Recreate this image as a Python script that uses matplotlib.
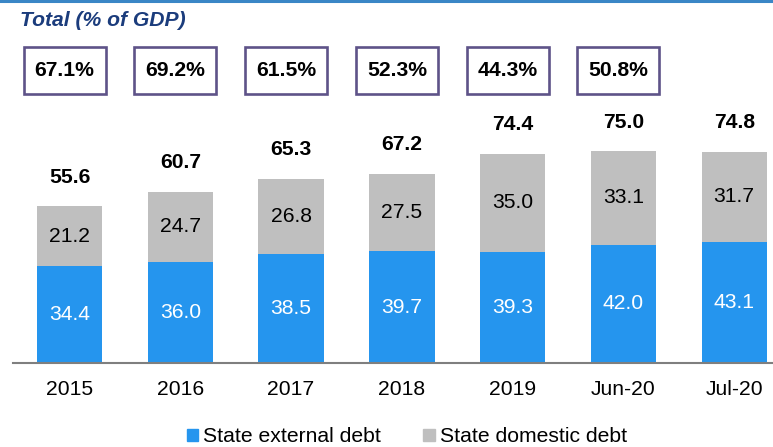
import numpy as np
import matplotlib.pyplot as plt
import matplotlib.transforms as mtransforms
from matplotlib.patches import Rectangle, Patch
from matplotlib.lines import Line2D

# data
periods = ["2015", "2016", "2017", "2018", "2019", "Jun-20", "Jul-20"]
external = [34.4, 36.0, 38.5, 39.7, 39.3, 42.0, 43.1]
domestic = [21.2, 24.7, 26.8, 27.5, 35.0, 33.1, 31.7]
totals = [55.6, 60.7, 65.3, 67.2, 74.4, 75.0, 74.8]
gdp_share = ["67.1%", "69.2%", "61.5%", "52.3%", "44.3%", "50.8%"]

blue = "#2595EE"
grey = "#BFBFBF"
navy = "#1B3C7C"
fs = 15.2

plt.rcParams["font.family"] = ["Liberation Sans", "DejaVu Sans"]

fig = plt.figure(figsize=(7.73, 4.47), dpi=100)
ax = fig.add_axes([13 / 773, 84 / 447, 760 / 773, 263 / 447])

x = np.arange(len(periods))
w = 0.59
ax.bar(x, external, width=w, color=blue, zorder=2)
ax.bar(x, domestic, width=w, bottom=external, color=grey, zorder=2)

for i in range(len(x)):
    ax.text(x[i], external[i] / 2, f"{external[i]:.1f}", ha="center", va="center",
            color="white", fontsize=fs)
    ax.text(x[i], external[i] + domestic[i] / 2, f"{domestic[i]:.1f}", ha="center",
            va="center", color="black", fontsize=fs)
    ax.annotate(f"{totals[i]:.1f}", (x[i], external[i] + domestic[i]),
                xytext=(0, 21), textcoords="offset points", ha="center", va="center",
                fontsize=fs, fontweight="bold")

ax.set_xlim(-0.51, 6.35)
ax.set_ylim(0, 93.3)
ax.set_xticks(x)
ax.set_xticklabels(periods, fontsize=fs)
ax.tick_params(axis="x", length=0, pad=12)
ax.set_yticks([])
for s in ["top", "left", "right"]:
    ax.spines[s].set_visible(False)
ax.spines["bottom"].set_color("#7F7F7F")
ax.spines["bottom"].set_linewidth(1.5)

# boxes with share of GDP
trans = mtransforms.blended_transform_factory(ax.transData, fig.transFigure)
bw = 0.74
for i, lab in enumerate(gdp_share):
    cx = x[i] - 0.045
    r = Rectangle((cx - bw / 2, 1 - 94 / 447), bw, 47 / 447, transform=trans,
                  facecolor="white", edgecolor="#5E5388", linewidth=1.9, clip_on=False)
    ax.add_patch(r)
    ax.text(cx, 1 - 71 / 447, lab, transform=trans, ha="center", va="center",
            fontsize=fs, fontweight="bold")

# title and top rule
fig.text(20 / 773, 1 - 20 / 447, "Total (% of GDP)", ha="left", va="center",
         fontsize=fs, fontweight="bold", fontstyle="italic", color=navy)
fig.add_artist(Line2D([0, 1], [1 - 1 / 447, 1 - 1 / 447], transform=fig.transFigure,
                      color="#3A86C6", linewidth=2.2))

handles = [Patch(color=blue, label="State external debt"),
           Patch(color=grey, label="State domestic debt")]
fig.legend(handles=handles, loc="center", bbox_to_anchor=(407 / 773, 1 - 437 / 447),
           ncol=2, frameon=False, fontsize=fs, handlelength=0.55, handleheight=0.55,
           handletextpad=0.25, columnspacing=2.0)

fig.savefig("out.png", dpi=100)
